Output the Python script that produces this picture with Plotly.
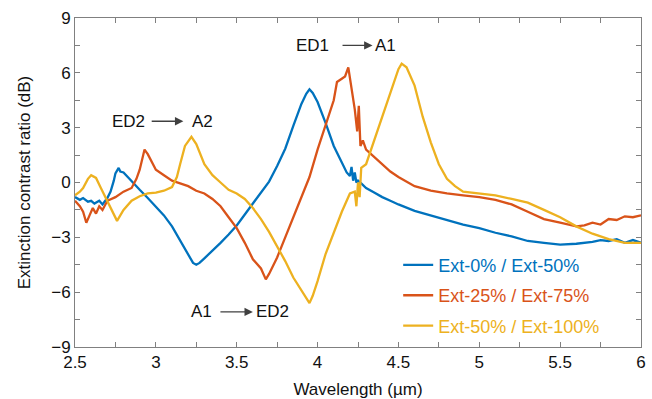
import plotly.graph_objects as go

# ---- data ----
blue_x = [2.50, 2.53, 2.55, 2.58, 2.60, 2.62, 2.65, 2.67, 2.70, 2.72, 2.74, 2.75, 2.77, 2.78, 2.80,
          2.82, 2.85, 2.90, 2.95, 3.00, 3.05, 3.10, 3.15, 3.20, 3.23, 3.25, 3.27, 3.30, 3.35, 3.40,
          3.45, 3.50, 3.55, 3.60, 3.65, 3.70, 3.75, 3.80, 3.85, 3.90, 3.93, 3.95, 3.97, 4.00, 4.05,
          4.10, 4.15, 4.18, 4.20, 4.21, 4.22, 4.23, 4.24, 4.25, 4.27, 4.30, 4.35, 4.40, 4.45, 4.50,
          4.60, 4.70, 4.80, 4.90, 5.00, 5.10, 5.20, 5.30, 5.40, 5.50, 5.60, 5.70, 5.75, 5.80, 5.85,
          5.90, 5.95, 6.00]
blue_y = [-0.8, -0.95, -0.85, -1.05, -1.0, -1.15, -1.0, -1.2, -0.85, -0.5, 0.1, 0.5, 0.8, 0.6, 0.55,
          0.35, 0.05, -0.4, -0.85, -1.3, -1.8, -2.4, -3.2, -4.0, -4.4, -4.5, -4.4, -4.15, -3.75, -3.3,
          -2.85, -2.35, -1.75, -1.15, -0.55, 0.05, 0.9, 1.85, 3.1, 4.3, 4.85, 5.1, 4.9, 4.4, 3.25,
          2.0, 1.1, 0.55, 0.35, 0.85, 0.1, 0.55, 0.0, 0.1, -0.05, -0.3, -0.55, -0.8, -1.0, -1.2,
          -1.55, -1.8, -2.05, -2.3, -2.5, -2.75, -2.95, -3.2, -3.3, -3.4, -3.35, -3.25, -3.15, -3.2, -3.1,
          -3.3, -3.15, -3.3]

orange_x = [2.50, 2.53, 2.55, 2.57, 2.59, 2.61, 2.63, 2.65, 2.67, 2.70, 2.75, 2.80, 2.85, 2.88, 2.90,
            2.93, 2.95, 3.00, 3.05, 3.10, 3.15, 3.20, 3.25, 3.30, 3.35, 3.40, 3.45, 3.50, 3.55, 3.60,
            3.65, 3.68, 3.70, 3.75, 3.80, 3.85, 3.90, 3.95, 4.00, 4.05, 4.10, 4.12, 4.15, 4.17, 4.19,
            4.21, 4.23, 4.245, 4.255, 4.265, 4.28, 4.30, 4.35, 4.40, 4.45, 4.50, 4.60, 4.70, 4.80, 4.90,
            5.00, 5.10, 5.20, 5.30, 5.40, 5.50, 5.60, 5.65, 5.70, 5.75, 5.80, 5.85, 5.90, 5.95, 6.00]
orange_y = [-1.0, -1.3, -1.6, -2.2, -1.8, -1.4, -1.7, -1.3, -1.5, -1.0, -0.8, -0.5, -0.3, 0.2, 0.7,
            1.8, 1.55, 0.7, 0.4, 0.1, -0.05, -0.2, -0.45, -0.6, -0.9, -1.3, -1.9, -2.5, -3.3, -4.2,
            -4.7, -5.3, -5.0, -4.1, -3.0, -1.9, -0.9, 0.3, 1.8, 3.1, 4.5, 5.5, 5.7, 5.8, 6.3,
            5.2, 4.0, 2.8, 4.2, 2.0, 2.3, 1.8, 1.4, 1.05, 0.6, 0.3, -0.2, -0.45, -0.6, -0.7,
            -0.8, -0.95, -1.2, -1.6, -2.0, -2.2, -2.4, -2.35, -2.2, -2.3, -2.0, -2.05, -1.85, -1.9, -1.8]

yellow_x = [2.50, 2.53, 2.55, 2.58, 2.60, 2.63, 2.66, 2.70, 2.73, 2.76, 2.80, 2.85, 2.90, 2.95, 3.00,
            3.05, 3.10, 3.13, 3.15, 3.18, 3.22, 3.25, 3.30, 3.35, 3.40, 3.45, 3.50, 3.55, 3.60, 3.65,
            3.70, 3.75, 3.80, 3.85, 3.90, 3.95, 3.97, 4.00, 4.05, 4.10, 4.15, 4.20, 4.23, 4.24, 4.25,
            4.26, 4.27, 4.30, 4.35, 4.40, 4.45, 4.50, 4.52, 4.55, 4.60, 4.65, 4.70, 4.75, 4.80, 4.85,
            4.90, 5.00, 5.10, 5.20, 5.30, 5.40, 5.50, 5.60, 5.70, 5.80, 5.90, 6.00]
yellow_y = [-0.7, -0.5, -0.3, 0.2, 0.4, 0.25, -0.3, -1.0, -1.6, -2.1, -1.5, -1.0, -0.75, -0.6, -0.55,
            -0.45, -0.25, 0.3, 1.0, 2.0, 2.5, 2.1, 1.0, 0.4, 0.0, -0.4, -0.6, -0.9, -1.4, -2.0,
            -2.7, -3.5, -4.3, -5.2, -5.9, -6.6, -6.2, -5.4, -3.9, -2.7, -1.6, -0.6, -0.5, -1.3, 0.0,
            -0.8, 0.8, 1.0, 2.3, 3.6, 5.0, 6.2, 6.5, 6.3, 5.3, 3.6, 2.2, 1.0, 0.2, -0.2,
            -0.5, -0.6, -0.7, -0.9, -1.1, -1.5, -1.9, -2.4, -2.8, -3.1, -3.3, -3.3]

series_names = ["Ext-0% / Ext-50%", "Ext-25% / Ext-75%", "Ext-50% / Ext-100%"]
series_colors = ["#0072BD", "#D95319", "#EDB120"]

x_ticks = [2.5, 3, 3.5, 4, 4.5, 5, 5.5, 6]
x_tick_text = ["2.5", "3", "3.5", "4", "4.5", "5", "5.5", "6"]
y_ticks = [-9, -6, -3, 0, 3, 6, 9]
y_tick_text = ["\u22129", "\u22126", "\u22123", "0", "3", "6", "9"]

FONT = "Liberation Sans, Arial, Helvetica, sans-serif"
AX = "#808080"

fig = go.Figure()
for i, (xs, ys) in enumerate([(blue_x, blue_y), (orange_x, orange_y), (yellow_x, yellow_y)]):
    fig.add_trace(go.Scatter(
        x=xs, y=ys, mode="lines",
        line=dict(color=series_colors[i], width=2.3),
        name=f"<span style='color:{series_colors[i]}'>{series_names[i]}</span>",
        legendgroup=f"g{i}",
    ))

axis_common = dict(
    showline=True, linecolor=AX, linewidth=1, mirror="allticks",
    ticks="inside", ticklen=5, tickcolor=AX, tickwidth=1,
    showgrid=False, zeroline=False, automargin=False,
    tickfont=dict(family=FONT, size=17, color="#111"),
)
fig.update_xaxes(range=[2.5, 6], tickvals=x_ticks, ticktext=x_tick_text,
                 title=dict(text="Wavelength (\u00b5m)", font=dict(family=FONT, size=17, color="#111"), standoff=12),
                 minor=dict(ticks="inside", dtick=0.25, ticklen=5, tickcolor=AX, showgrid=False),
                 **axis_common)
fig.update_yaxes(range=[-9, 9], tickvals=y_ticks, ticktext=y_tick_text,
                 title=dict(text="Extinction contrast ratio (dB)", font=dict(family=FONT, size=17, color="#111"), standoff=16),
                 minor=dict(ticks="inside", dtick=1.5, ticklen=5, tickcolor=AX, showgrid=False),
                 **axis_common)

ARROW = "#404040"
ann_font = dict(family=FONT, size=17, color="#111")
labels = [
    # (text, x, y)
    ("ED2", 2.83, 3.35), ("A2", 3.29, 3.35),
    ("ED1", 3.97, 7.5), ("A1", 4.42, 7.5),
    ("A1", 3.28, -7.08), ("ED2", 3.72, -7.08),
]
for t, x, y in labels:
    fig.add_annotation(x=x, y=y, text=t, showarrow=False, font=ann_font,
                       xanchor="center", yanchor="middle")
arrows = [
    # (tail_x, head_x, y)
    (2.965, 3.17, 3.35),
    (4.145, 4.34, 7.5),
    (3.39, 3.60, -7.08),
]
for tx, hx, y in arrows:
    fig.add_annotation(x=hx, y=y, ax=tx, ay=y, xref="x", yref="y", axref="x", ayref="y",
                       text="", showarrow=True, arrowhead=2, arrowsize=1.2, arrowwidth=1.4,
                       arrowcolor=ARROW)

fig.update_layout(
    width=652, height=399,
    margin=dict(l=75, r=11, t=18, b=52, autoexpand=False),
    paper_bgcolor="white", plot_bgcolor="white",
    font=dict(family=FONT, size=17, color="#111"),
    legend=dict(x=0.571, y=0.305, xanchor="left", yanchor="top",
                bgcolor="rgba(0,0,0,0)", borderwidth=0,
                font=dict(family=FONT, size=18),
                tracegroupgap=4, traceorder="grouped"),
    showlegend=True,
)

fig.write_html("out.html")
